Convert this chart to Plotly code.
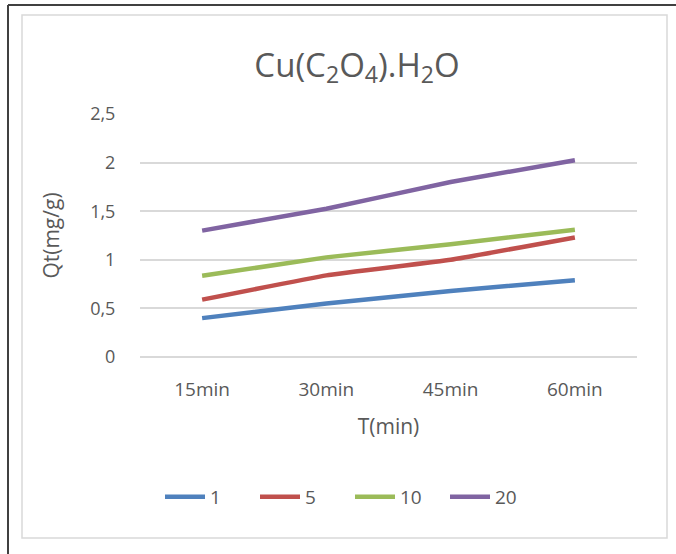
import plotly.graph_objects as go

# Contact time categories and adsorbed quantity Qt (mg/g) for each series
times = ["15min", "30min", "45min", "60min"]
series_names = ["1", "5", "10", "20"]
qt_1 = [0.40, 0.55, 0.68, 0.79]
qt_5 = [0.59, 0.84, 1.00, 1.23]
qt_10 = [0.835, 1.025, 1.16, 1.31]
qt_20 = [1.30, 1.525, 1.80, 2.025]
y_ticks = [0, 0.5, 1, 1.5, 2, 2.5]
y_tick_text = ["0", "0,5", "1", "1,5", "2", "2,5"]

colors = ["#4f81bd", "#c0504d", "#9bbb59", "#8064a2"]
text_color = "#595959"
grid_color = "#d9d9d9"
font_family = "Open Sans"

W, H = 676, 554
L, R, T, B = 140, 637, 114, 357  # plot area in pixels


def px(x):
    return (x - L) / (R - L)


def py(y):
    return (B - y) / (B - T)


fig = go.Figure()
for name, vals, col in zip(series_names, [qt_1, qt_5, qt_10, qt_20], colors):
    fig.add_trace(go.Scatter(
        x=times, y=vals, name=name, mode="lines",
        line=dict(color=col, width=4.5, shape="spline", smoothing=0.3),
    ))

fig.update_layout(
    width=W, height=H,
    margin=dict(l=L, r=W - R, t=T, b=H - B, pad=0),
    paper_bgcolor="white", plot_bgcolor="white",
    font=dict(family=font_family, color=text_color, size=18),
    title=dict(
        text="Cu(C<sub>2</sub>O<sub>4</sub>).H<sub>2</sub>O",
        x=px(357), xanchor="center", xref="paper",
        y=1 - 65 / H, yanchor="middle",
        font=dict(size=33, color=text_color, family=font_family),
    ),
    xaxis=dict(
        showgrid=False, zeroline=False, showline=False,
        ticks="outside", ticklen=15, tickcolor="rgba(0,0,0,0)",
        tickfont=dict(size=19, color=text_color),
        title=dict(text="T(min)", font=dict(size=21, color=text_color), standoff=18),
        range=[-0.5, 3.5],
    ),
    yaxis=dict(
        range=[0, 2.5], tickvals=y_ticks, ticktext=y_tick_text,
        showgrid=True, gridcolor=grid_color, gridwidth=1.5,
        zeroline=True, zerolinecolor=grid_color, zerolinewidth=1.5,
        showline=False,
        ticks="outside", ticklen=20, tickcolor="rgba(0,0,0,0)",
        tickfont=dict(size=18, color=text_color),
        title=dict(text="Qt(mg/g)", font=dict(size=21, color=text_color), standoff=24),
    ),
    legend=dict(
        orientation="h", x=px(350), xanchor="center",
        y=py(497), yanchor="middle",
        font=dict(size=19, color=text_color),
        itemwidth=40, entrywidth=40, traceorder="normal",
        bgcolor="rgba(0,0,0,0)",
    ),
    showlegend=True,
    shapes=[
        # inner chart frame
        dict(type="rect", xref="paper", yref="paper",
             x0=px(22), x1=px(667), y0=py(538), y1=py(15),
             line=dict(color=grid_color, width=1.5), layer="below"),
        # outer dark edges
        dict(type="line", xref="paper", yref="paper",
             x0=px(8), x1=px(676), y0=py(5), y1=py(5),
             line=dict(color="#404040", width=2)),
        dict(type="line", xref="paper", yref="paper",
             x0=px(8), x1=px(8), y0=py(5), y1=py(554),
             line=dict(color="#404040", width=2)),
    ],
)

fig.write_html("out.html")
